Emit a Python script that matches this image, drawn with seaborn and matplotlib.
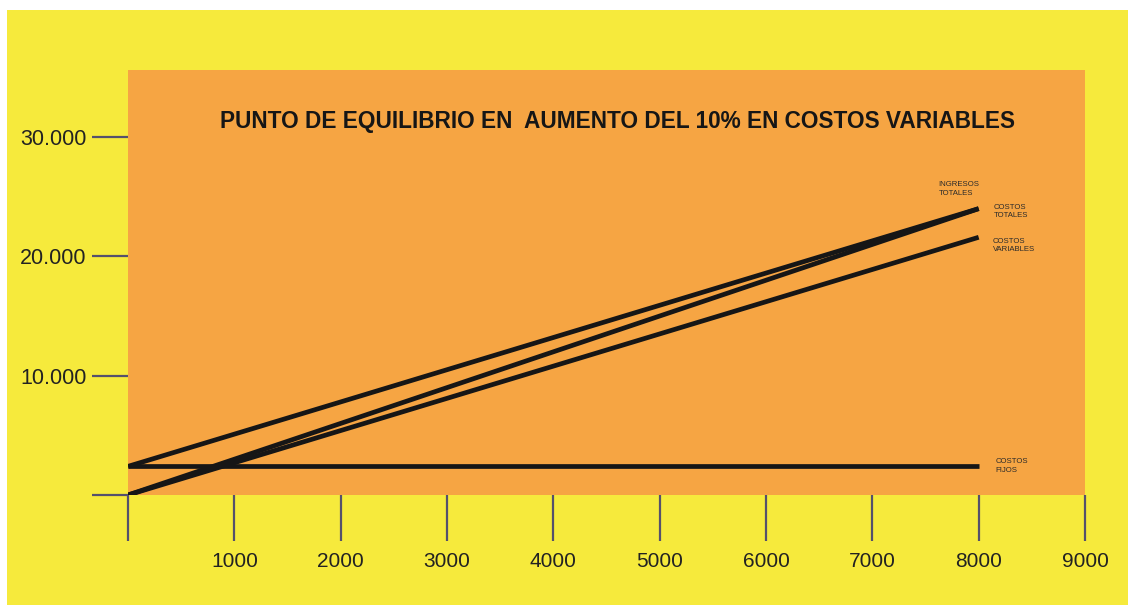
import matplotlib
matplotlib.use("Agg")
import matplotlib.pyplot as plt
from matplotlib.patches import Rectangle
import pandas as pd
import seaborn as sns

# Units produced and the break-even model values (fixed 2.400, variable 2,7/unit, price 3/unit)
units = [0, 8000]
ingresos_totales = [0, 24000]
costos_totales = [2400, 24000]
costos_variables = [0, 21600]
costos_fijos = [2400, 2400]

series_names = ["INGRESOS\nTOTALES", "COSTOS\nTOTALES", "COSTOS\nVARIABLES", "COSTOS\nFIJOS"]
series_values = [ingresos_totales, costos_totales, costos_variables, costos_fijos]

x_ticks = [0, 1000, 2000, 3000, 4000, 5000, 6000, 7000, 8000, 9000]
x_tick_labels = ["", "1000", "2000", "3000", "4000", "5000", "6000", "7000", "8000", "9000"]
y_ticks = [0, 10000, 20000, 30000]
y_tick_labels = ["", "10.000", "20.000", "30.000"]

title = "PUNTO DE EQUILIBRIO EN  AUMENTO DEL 10% EN COSTOS VARIABLES"

YELLOW = "#F6EA3C"
ORANGE = "#F6A543"
INK = "#161616"
TICK = "#55506C"

sns.set_style("white")
plt.rcParams["font.family"] = ["Liberation Sans", "DejaVu Sans"]

rows = []
for name, vals in zip(series_names, series_values):
    for u, v in zip(units, vals):
        rows.append({"unidades": u, "valor": v, "serie": name})
df = pd.DataFrame(rows)

fig = plt.figure(figsize=(11.28, 6.05), dpi=100, facecolor="white")
fig.patches.append(Rectangle((7 / 1128, 0), 1, 1 - 10 / 605, transform=fig.transFigure,
                             facecolor=YELLOW, edgecolor="none", zorder=-10))

ax = fig.add_axes([128 / 1128, 1 - 495 / 605, (1085 - 128) / 1128, (495 - 70) / 605])
ax.set_facecolor(ORANGE)

sns.lineplot(data=df, x="unidades", y="valor", hue="serie",
             palette=[INK] * len(series_names), linewidth=3.4,
             legend=False, ax=ax, solid_capstyle="butt")

ax.set_xlim(0, 9000)
ax.set_ylim(0, 35620)
for s in ax.spines.values():
    s.set_visible(False)

ax.set_xticks(x_ticks)
ax.set_xticklabels(x_tick_labels)
ax.set_yticks(y_ticks)
ax.set_yticklabels(y_tick_labels)
ax.tick_params(axis="x", bottom=True, direction="out", length=33, width=1.6, color=TICK,
               pad=8, labelsize=15, labelcolor="#222222")
ax.tick_params(axis="y", left=True, direction="out", length=26, width=1.6, color=TICK,
               pad=4, labelsize=15.5, labelcolor="#222222")
for t in ax.xaxis.get_major_ticks() + ax.yaxis.get_major_ticks():
    t.tick1line.set_clip_on(False)
ax.set_xlabel("")
ax.set_ylabel("")

# Series names next to the line ends
label_offsets = [(-29, 14), (11, -2), (10, -6), (12, 0)]
for name, vals, (dx, dy) in zip(series_names, series_values, label_offsets):
    ax.annotate(name, xy=(units[-1], vals[-1]), xytext=(dx, dy),
                textcoords="offset points", ha="left", va="center",
                fontsize=5.6, color="#2a2a2a", linespacing=1.35)

ax.text(0.511, 0.878, title, transform=ax.transAxes, ha="center", va="center",
        fontsize=16.3, fontweight="bold", color=INK)

fig.savefig("out.png", dpi=100, facecolor=fig.get_facecolor())
